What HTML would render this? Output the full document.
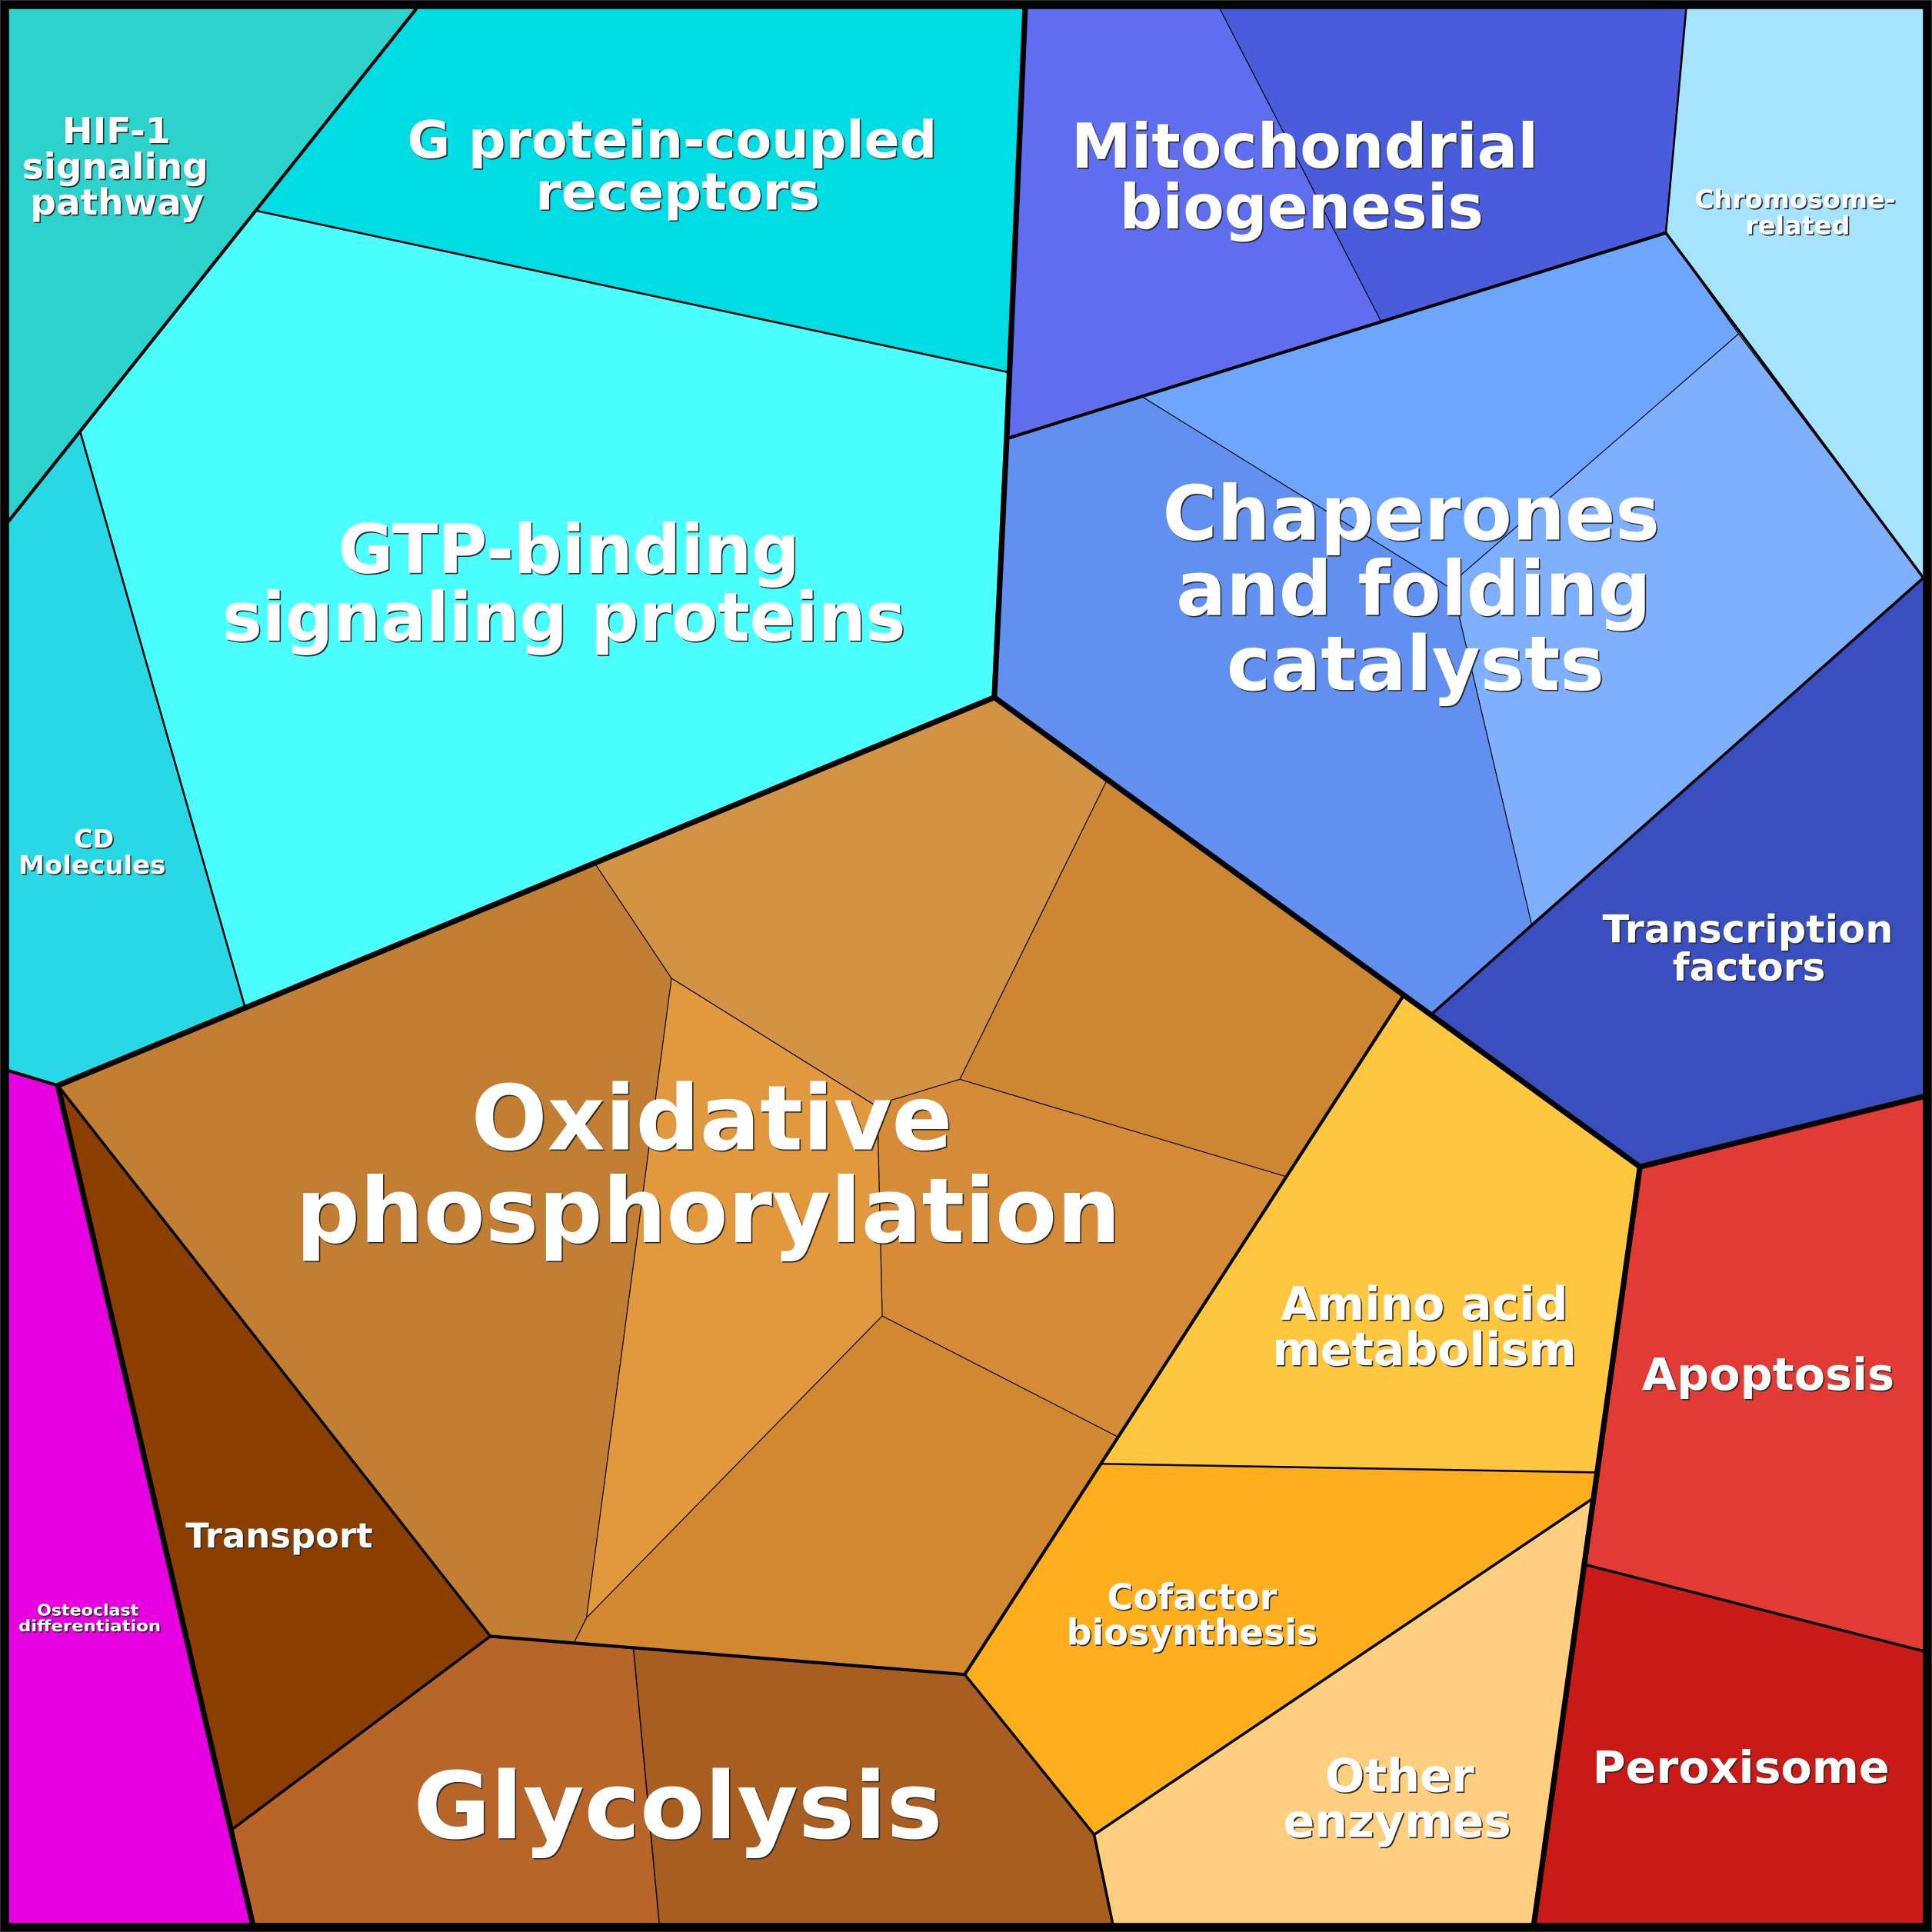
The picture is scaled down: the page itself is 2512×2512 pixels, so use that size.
<!DOCTYPE html>
<html><head><meta charset="utf-8"><style>
html,body{margin:0;padding:0;background:#000}
svg{display:block}
text{font-family:"DejaVu Sans","Liberation Sans",sans-serif;font-weight:bold;fill:#fff}
.p polygon{stroke:#000;stroke-width:.7;stroke-linejoin:round}
.n{fill:none;stroke:#000;stroke-width:1.6;stroke-linejoin:round;stroke-linecap:round}
.h{fill:none;stroke:#000;stroke-width:2.2;stroke-linejoin:round;stroke-linecap:round}
.m{fill:none;stroke:#000;stroke-width:2.6;stroke-linejoin:round;stroke-linecap:round}
.t{fill:none;stroke:#000;stroke-width:4.5;stroke-linejoin:round;stroke-linecap:round}
#labels{filter:drop-shadow(1px 1px 0 #2a2a2a)}
</style></head><body>
<svg xmlns="http://www.w3.org/2000/svg" width="2512" height="2512" viewBox="0 0 1568 1568">
<rect width="1568" height="1568" fill="#000"/>
<rect x=".3" y=".3" width="1567.4" height="1567.4" fill="none" stroke="#333" stroke-width=".6"/>
<g class="p">
<polygon fill="#2dd2cd" points="7,7 338,7 208,171 65,350 7,423"/>
<polygon fill="#00dce4" points="338,7 832,7 818,302 208,171"/>
<polygon fill="#4bffff" points="208,171 818,302 807,566 483,701 199,818 65,350"/>
<polygon fill="#29d8e5" points="65,350 199,818 47,881 7,869 7,423"/>
<polygon fill="#5f6eee" points="832,7 990,7 1121,261 927,322 817,356"/>
<polygon fill="#485cdc" points="990,7 1368.5,7 1352,189 1121,261"/>
<polygon fill="#a6e3ff" points="1368.5,7 1561,7 1561,469 1411,271 1352,189"/>
<polygon fill="#6ea6ff" points="927,322 1121,261 1352,189 1411,271 1175,476"/>
<polygon fill="#7fafff" points="1411,271 1561,469 1243,750 1183,495 1175,476"/>
<polygon fill="#6190f0" points="817,356 927,322 1175,476 1183,495 1243,750 1162,823 1139,808 898,634 807,566"/>
<polygon fill="#394fbe" points="1561,469 1561,890 1331,947 1162,823 1243,750"/>
<polygon fill="#ffc640" points="1139,808 1331,947 1295,1195 893,1188 907,1166 1044,955"/>
<polygon fill="#e23b35" points="1331,947 1561,890 1561,1340 1287,1270 1295,1195"/>
<polygon fill="#c81a16" points="1287,1270 1561,1340 1561,1561 1245,1561"/>
<polygon fill="#ffce7e" points="1293,1216 1245,1561 903,1561 888,1489"/>
<polygon fill="#ffae1e" points="893,1188 1295,1195 1293,1216 888,1489 783,1359"/>
<polygon fill="#a95e21" points="514,1337 783,1359 888,1489 903,1561 535,1561"/>
<polygon fill="#b8652a" points="398,1328 466,1333 514,1337 535,1561 205,1561 188,1485"/>
<polygon fill="#8a3f00" points="47,881 398,1328 188,1485"/>
<polygon fill="#e600e0" points="7,869 47,881 188,1485 205,1561 7,1561"/>
<polygon fill="#c27e33" points="47,881 483,701 545,794 476,1313 466,1333 398,1328"/>
<polygon fill="#d39345" points="483,701 807,566 898,634 779,876 710,897 545,794"/>
<polygon fill="#cd8733" points="898,634 1139,808 1044,955 779,876"/>
<polygon fill="#d68b38" points="779,876 1044,955 907,1166 716,1068 712,897 710,897"/>
<polygon fill="#e2983d" points="545,794 710,897 712,897 716,1068 476,1313"/>
<polygon fill="#d18831" points="716,1068 907,1166 783,1359 466,1333 476,1313"/>
</g>
<polyline class="m" points="338,7 7,423"/>
<polyline class="n" points="208,171 818,302"/>
<polyline class="n" points="65,350 199,818"/>
<polyline class="m" points="7,869 47,881"/>
<polyline class="h" points="47,881 398,1328"/>
<polyline class="m" points="398,1328 783,1359"/>
<polyline class="h" points="783,1359 888,1489 903,1561"/>
<polyline class="h" points="398,1328 188,1485"/>
<polyline class="m" points="817,356 1352,189"/>
<polyline class="h" points="1352,189 1561,469 1162,823"/>
<polyline class="n" points="1368.5,7 1352,189"/>
<polyline class="m" points="1139,808 783,1359"/>
<polyline class="n" points="893,1188 1295,1195"/>
<polyline class="h" points="1293,1216 888,1489"/>
<polyline class="h" points="1287,1270 1561,1340"/>
<polyline class="n" points="514,1337 535,1561" style="stroke-width:.9"/>
<polyline class="t" points="832,7 817,356 807,566 47,881 205,1561"/>
<polyline class="t" points="807,566 1331,947 1245,1561"/>
<polyline class="t" points="1331,947 1561,890"/>
<g id="labels">
<text x="50.5" y="116" font-size="29" textLength="88" lengthAdjust="spacingAndGlyphs">HIF-1</text>
<text x="18" y="145" font-size="29" textLength="151" lengthAdjust="spacingAndGlyphs">signaling</text>
<text x="24.5" y="174" font-size="29" textLength="141" lengthAdjust="spacingAndGlyphs">pathway</text>
<text x="330.5" y="128" font-size="42" textLength="430" lengthAdjust="spacingAndGlyphs">G protein-coupled</text>
<text x="434.5" y="170" font-size="42" textLength="231" lengthAdjust="spacingAndGlyphs">receptors</text>
<text x="869.5" y="136" font-size="50" textLength="379" lengthAdjust="spacingAndGlyphs">Mitochondrial</text>
<text x="908.5" y="185.5" font-size="50" textLength="295.5" lengthAdjust="spacingAndGlyphs">biogenesis</text>
<text x="1375.5" y="169" font-size="20.5" textLength="163" lengthAdjust="spacingAndGlyphs">Chromosome-</text>
<text x="1416.5" y="190" font-size="20.5" textLength="85" lengthAdjust="spacingAndGlyphs">related</text>
<text x="274.5" y="465" font-size="55" textLength="374.5" lengthAdjust="spacingAndGlyphs">GTP-binding</text>
<text x="180.5" y="520" font-size="55" textLength="554.5" lengthAdjust="spacingAndGlyphs">signaling proteins</text>
<text x="943.5" y="438" font-size="61" textLength="403.5" lengthAdjust="spacingAndGlyphs">Chaperones</text>
<text x="954.5" y="499" font-size="61" textLength="385.5" lengthAdjust="spacingAndGlyphs">and folding</text>
<text x="995.5" y="560" font-size="61" textLength="306.5" lengthAdjust="spacingAndGlyphs">catalysts</text>
<text x="60" y="688" font-size="20.5" textLength="32.5" lengthAdjust="spacingAndGlyphs">CD</text>
<text x="15" y="709" font-size="20.5" textLength="119.5" lengthAdjust="spacingAndGlyphs">Molecules</text>
<text x="1300.5" y="765" font-size="31" textLength="236" lengthAdjust="spacingAndGlyphs">Transcription</text>
<text x="1357.5" y="796" font-size="31" textLength="124" lengthAdjust="spacingAndGlyphs">factors</text>
<text x="382.5" y="933" font-size="73" textLength="390.5" lengthAdjust="spacingAndGlyphs">Oxidative</text>
<text x="240" y="1008" font-size="73" textLength="669.5" lengthAdjust="spacingAndGlyphs">phosphorylation</text>
<text x="1039.5" y="1071" font-size="37" textLength="233" lengthAdjust="spacingAndGlyphs">Amino acid</text>
<text x="1032.5" y="1108" font-size="37" textLength="247" lengthAdjust="spacingAndGlyphs">metabolism</text>
<text x="1332.5" y="1128" font-size="36" textLength="205" lengthAdjust="spacingAndGlyphs">Apoptosis</text>
<text x="150.5" y="1256" font-size="28" textLength="152" lengthAdjust="spacingAndGlyphs">Transport</text>
<text x="898.5" y="1306" font-size="29" textLength="138" lengthAdjust="spacingAndGlyphs">Cofactor</text>
<text x="865.5" y="1335" font-size="29" textLength="204" lengthAdjust="spacingAndGlyphs">biosynthesis</text>
<text x="30" y="1311" font-size="13" textLength="82.5" lengthAdjust="spacingAndGlyphs">Osteoclast</text>
<text x="15" y="1324" font-size="13" textLength="115.5" lengthAdjust="spacingAndGlyphs">differentiation</text>
<text x="1075.5" y="1454" font-size="37" textLength="121" lengthAdjust="spacingAndGlyphs">Other</text>
<text x="1041.5" y="1491" font-size="37" textLength="185" lengthAdjust="spacingAndGlyphs">enzymes</text>
<text x="1292.5" y="1447" font-size="36" textLength="241" lengthAdjust="spacingAndGlyphs">Peroxisome</text>
<text x="335.5" y="1492" font-size="75" textLength="429.5" lengthAdjust="spacingAndGlyphs">Glycolysis</text>
</g>
</svg>
</body></html>
